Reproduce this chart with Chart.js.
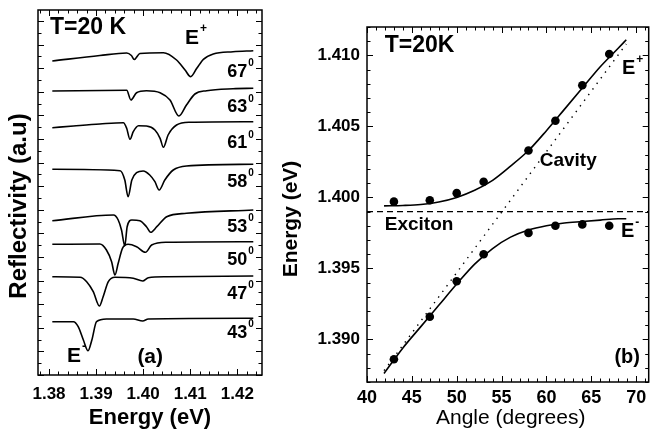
<!DOCTYPE html>
<html>
<head>
<meta charset="utf-8">
<script src="https://cdn.jsdelivr.net/npm/chart.js@4.4.0/dist/chart.umd.min.js"></script>
<style>
  html, body { margin: 0; padding: 0; background: #fff; }
  #wrap { position: relative; width: 653px; height: 434px; overflow: hidden; }
  #chartA { position: absolute; left: 0; top: 0; }
  #chartB { position: absolute; left: 270px; top: 0; }
</style>
</head>
<body>
<div id="wrap">
  <canvas id="chartA" width="300" height="434"></canvas>
  <canvas id="chartB" width="383" height="434"></canvas>
</div>
<script>
"use strict";

// ---- panel (a): reflectivity spectra, energy (eV) vs offset reflectivity (a.u.)
const angleLabels = ["67", "63", "61", "58", "53", "50", "47", "43"];

const e67 = [1.3807, 1.3908, 1.3965, 1.3975, 1.3981, 1.3993, 1.4043, 1.4071, 1.4089, 1.4101, 1.4114, 1.4128, 1.4149, 1.4191, 1.4234];
const r67 = [314, 319.5, 322, 319.5, 315.5, 321.5, 322.3, 315, 305, 298.3, 306.7, 315.7, 321, 323.3, 324.3];

const e63 = [1.3807, 1.3965, 1.3974, 1.3986, 1.4007, 1.4036, 1.4057, 1.4076, 1.4092, 1.4110, 1.4135, 1.4191, 1.4234];
const r63 = [284, 284.7, 275, 282.3, 284.3, 282.3, 275, 259, 270, 281, 284.3, 286.3, 286.7];

const e61 = [1.3807, 1.3852, 1.3908, 1.3958, 1.3965, 1.3972, 1.3979, 1.3990, 1.4007, 1.4025, 1.4036, 1.4043, 1.4053, 1.4071, 1.4099, 1.4234];
const r61 = [247.3, 249, 251, 252.3, 246.7, 235.7, 243.3, 249.3, 249, 245, 236.7, 227.7, 240, 250, 252.7, 253.3];

const e58 = [1.3807, 1.3951, 1.3961, 1.3968, 1.3976, 1.3986, 1.4000, 1.4014, 1.4025, 1.4034, 1.4046, 1.4064, 1.4092, 1.4234];
const r58 = [205.7, 204.3, 195, 178.3, 195, 202.3, 204, 200, 193.3, 185, 195, 205, 209, 210.7];

const e53 = [1.3807, 1.3937, 1.3947, 1.3954, 1.3961, 1.3966, 1.3976, 1.3993, 1.4007, 1.4016, 1.4029, 1.4050, 1.4092, 1.4234];
const r53 = [154.3, 160, 155, 145, 129, 148.3, 155, 154.3, 148.3, 142.7, 148.3, 158.3, 161.7, 165];

const e50 = [1.3807, 1.3908, 1.3922, 1.3933, 1.3940, 1.3947, 1.3956, 1.3968, 1.3986, 1.4005, 1.4018, 1.4050, 1.4234];
const r50 = [130.7, 131, 125, 113.3, 100, 111.7, 126.7, 130.7, 128.3, 122.7, 130, 132.7, 133.3];

const e47 = [1.3807, 1.3866, 1.3880, 1.3894, 1.3907, 1.3915, 1.3926, 1.3940, 1.3979, 1.3999, 1.4011, 1.4050, 1.4234];
const r47 = [98.3, 97.7, 93.3, 83.3, 69, 78.3, 93.3, 97.7, 96.7, 94, 97.3, 98.3, 99];

const e43 = [1.3807, 1.3852, 1.3862, 1.3873, 1.3883, 1.3891, 1.3901, 1.3922, 1.3979, 1.3999, 1.4011, 1.4234];
const r43 = [53.3, 53.3, 48.3, 35, 24.3, 35, 53.3, 56, 56, 54, 56, 56.7];

// label height of each angle tag on the reflectivity axis
const angleLabelY = [303.3, 267.5, 231.7, 193.3, 148.3, 115, 81, 42];

// ---- panel (b): polariton energies vs angle
const angles   = [43, 47, 50, 53, 58, 61, 64, 67];
const upperE   = [1.3997, 1.3998, 1.4003, 1.4011, 1.4033, 1.4054, 1.4079, 1.4101];
const lowerE   = [1.3886, 1.3916, 1.3941, 1.3960, 1.3975, 1.3980, 1.3981, 1.3980];

const fitAngles = [41.9, 44, 46, 48, 50, 52, 54, 56, 58, 60, 62, 64, 66, 68, 68.9];
const upperFit  = [1.3994, 1.39943, 1.3995, 1.39968, 1.40000, 1.4005, 1.4012, 1.4022, 1.4033, 1.4047, 1.4062, 1.4077, 1.4092, 1.4105, 1.4111];
const lowerFit  = [1.3876, 1.3894, 1.3909, 1.3924, 1.3939, 1.3953, 1.3964, 1.3972, 1.3977, 1.3980, 1.3982, 1.3983, 1.3984, 1.3985, 1.3985];

const cavityAngles  = [41.9, 68.9];
const cavityE       = [1.3878, 1.4108];
const excitonAngles = [40, 71.4];
const excitonE      = [1.399, 1.399];

const FONT = "'Liberation Sans', Arial, Helvetica, sans-serif";

function toPoints(xs, ys) {
    return xs.map((x, i) => ({ x: x, y: ys[i] }));
}

function isMul(v, step) {
    const q = v / step;
    return Math.abs(q - Math.round(q)) < 1e-6;
}

// closed frame with inward ticks on all four sides
function framePlugin(xMajor, yMajor) {
    return {
        id: "frame",
        afterDraw(chart) {
            const { ctx, chartArea: a, scales } = chart;
            ctx.save();
            ctx.strokeStyle = "#000";
            ctx.lineWidth = 1.5;
            ctx.strokeRect(a.left, a.top, a.right - a.left, a.bottom - a.top);
            ctx.lineWidth = 1;
            ctx.beginPath();
            scales.x.ticks.forEach(t => {
                const px = Math.round(scales.x.getPixelForValue(t.value)) + 0.5;
                const len = isMul(t.value, xMajor) ? 6 : 3.5;
                ctx.moveTo(px, a.bottom); ctx.lineTo(px, a.bottom - len);
                ctx.moveTo(px, a.top);    ctx.lineTo(px, a.top + len);
            });
            scales.y.ticks.forEach(t => {
                const py = Math.round(scales.y.getPixelForValue(t.value)) + 0.5;
                const len = isMul(t.value, yMajor) ? 6 : 3.5;
                ctx.moveTo(a.left, py);  ctx.lineTo(a.left + len, py);
                ctx.moveTo(a.right, py); ctx.lineTo(a.right - len, py);
            });
            ctx.stroke();
            ctx.restore();
        }
    };
}

function drawText(ctx, s, sup, x, y, size, align, weight) {
    const supSize = Math.round(size * 0.58);
    ctx.font = weight + " " + size + "px " + FONT;
    const w1 = ctx.measureText(s).width;
    let w2 = 0;
    if (sup) {
        ctx.font = weight + " " + supSize + "px " + FONT;
        w2 = ctx.measureText(sup).width + 1;
    }
    const x0 = align === "right" ? x - w1 - w2 : align === "center" ? x - (w1 + w2) / 2 : x;
    ctx.textAlign = "left";
    ctx.textBaseline = "middle";
    ctx.font = weight + " " + size + "px " + FONT;
    ctx.fillText(s, x0, y);
    if (sup) {
        ctx.font = weight + " " + supSize + "px " + FONT;
        ctx.fillText(sup, x0 + w1 + 1, y - size * 0.46);
    }
}

// labels: [text, superscript, x value, y value, size, align, weight]
// titles: [text, px x, px y, size, weight, rotated]
function labelPlugin(labels, titles) {
    return {
        id: "labels",
        afterDraw(chart) {
            const { ctx, scales } = chart;
            ctx.save();
            ctx.fillStyle = "#000";
            labels.forEach(l => {
                const px = scales.x.getPixelForValue(l[2]);
                const py = scales.y.getPixelForValue(l[3]);
                drawText(ctx, l[0], l[1], px, py, l[4], l[5], l[6]);
            });
            titles.forEach(t => {
                ctx.save();
                ctx.translate(t[1], t[2]);
                if (t[5]) ctx.rotate(-Math.PI / 2);
                ctx.font = t[4] + " " + t[3] + "px " + FONT;
                ctx.textAlign = "center";
                ctx.textBaseline = "middle";
                ctx.fillText(t[0], 0, 0);
                ctx.restore();
            });
            ctx.restore();
        }
    };
}

// ---------- panel (a)
const spectraE = [e67, e63, e61, e58, e53, e50, e47, e43];
const spectraR = [r67, r63, r61, r58, r53, r50, r47, r43];

const labelsA = [
    ["T=20 K", "", 1.3802, 347, 23, "left", "bold"],
    ["E", "+", 1.4089, 336.7, 21, "left", "bold"],
    ["E", "-", 1.3838, 18.3, 21, "left", "bold"],
    ["(a)", "", 1.4015, 18, 21, "center", "bold"]
].concat(angleLabels.map((a, i) => [a, "0", 1.4235, angleLabelY[i], 18, "right", "bold"]));

const titlesA = [
    ["Reflectivity (a.u)", 19, 206, 24, "bold", true],
    ["Energy (eV)", 150, 418, 22, "bold", false]
];

new Chart(document.getElementById("chartA"), {
    type: "line",
    data: {
        datasets: spectraE.map((es, i) => ({
            label: angleLabels[i] + "°",
            data: toPoints(es, spectraR[i]),
            borderColor: "#000",
            borderWidth: 1.6,
            pointRadius: 0,
            fill: false,
            cubicInterpolationMode: "monotone"
        }))
    },
    options: {
        responsive: false,
        animation: false,
        devicePixelRatio: 1,
        layout: { padding: { left: 0, top: 10, right: 38, bottom: 0 } },
        plugins: { legend: { display: false }, tooltip: { enabled: false } },
        scales: {
            x: {
                type: "linear",
                min: 1.37766,
                max: 1.42525,
                afterFit(s) { s.height = 59; },
                grid: { display: false, drawTicks: false },
                border: { display: false },
                ticks: {
                    stepSize: 0.002,
                    includeBounds: false,
                    autoSkip: false,
                    maxRotation: 0,
                    padding: 11,
                    color: "#000",
                    font: { family: FONT, size: 17, weight: "bold", lineHeight: 1 },
                    callback: v => isMul(v, 0.01) ? v.toFixed(2) : ""
                }
            },
            y: {
                type: "linear",
                min: 0,
                max: 365,
                afterFit(s) { s.width = 38; },
                grid: { display: false, drawTicks: false },
                border: { display: false },
                ticks: { stepSize: 11.8, includeBounds: false, display: false }
            }
        }
    },
    plugins: [framePlugin(0.01, 23.6), labelPlugin(labelsA, titlesA)]
});

// ---------- panel (b)
const labelsB = [
    ["T=20K", "", 41.98, 1.4107, 23, "left", "bold"],
    ["E", "+", 68.42, 1.40906, 20, "left", "bold"],
    ["Cavity", "", 59.25, 1.40256, 19, "left", "bold"],
    ["Exciton", "", 41.98, 1.3981, 19, "left", "bold"],
    ["E", "-", 68.31, 1.39758, 20, "left", "bold"],
    ["(b)", "", 69.0, 1.38873, 20, "center", "bold"]
];

const titlesB = [
    ["Energy (eV)", 21, 219, 21, "bold", true],
    ["Angle (degrees)", 240.7, 418, 21, "normal", false]
];

new Chart(document.getElementById("chartB"), {
    type: "line",
    data: {
        datasets: [
            {
                label: "E+ data",
                data: toPoints(angles, upperE),
                showLine: false,
                pointRadius: 4.3,
                pointBackgroundColor: "#000",
                pointBorderColor: "#000",
                pointBorderWidth: 0
            },
            {
                label: "E- data",
                data: toPoints(angles, lowerE),
                showLine: false,
                pointRadius: 4.3,
                pointBackgroundColor: "#000",
                pointBorderColor: "#000",
                pointBorderWidth: 0
            },
            {
                label: "E+ fit",
                data: toPoints(fitAngles, upperFit),
                borderColor: "#000",
                borderWidth: 1.6,
                pointRadius: 0,
                cubicInterpolationMode: "monotone"
            },
            {
                label: "E- fit",
                data: toPoints(fitAngles, lowerFit),
                borderColor: "#000",
                borderWidth: 1.6,
                pointRadius: 0,
                cubicInterpolationMode: "monotone"
            },
            {
                label: "Cavity",
                data: toPoints(cavityAngles, cavityE),
                borderColor: "#000",
                borderWidth: 1.4,
                borderDash: [1.4, 5.6],
                pointRadius: 0
            },
            {
                label: "Exciton",
                data: toPoints(excitonAngles, excitonE),
                borderColor: "#000",
                borderWidth: 1.2,
                borderDash: [6, 4],
                pointRadius: 0
            }
        ]
    },
    options: {
        responsive: false,
        animation: false,
        devicePixelRatio: 1,
        layout: { padding: { left: 0, top: 27, right: 1, bottom: 0 } },
        plugins: { legend: { display: false }, tooltip: { enabled: false } },
        scales: {
            x: {
                type: "linear",
                min: 40,
                max: 71.4,
                afterFit(s) { s.height = 52; },
                grid: { display: false, drawTicks: false },
                border: { display: false },
                ticks: {
                    stepSize: 1,
                    includeBounds: false,
                    autoSkip: false,
                    maxRotation: 0,
                    padding: 7,
                    color: "#000",
                    font: { family: FONT, size: 18, weight: "bold", lineHeight: 1 },
                    callback: v => isMul(v, 5) ? String(Math.round(v)) : ""
                }
            },
            y: {
                type: "linear",
                min: 1.387,
                max: 1.412,
                afterFit(s) { s.width = 97; },
                grid: { display: false, drawTicks: false },
                border: { display: false },
                ticks: {
                    stepSize: 0.001,
                    includeBounds: false,
                    autoSkip: false,
                    padding: 7,
                    color: "#000",
                    font: { family: FONT, size: 17, weight: "bold", lineHeight: 1 },
                    callback: v => isMul(v, 0.005) ? v.toFixed(3) : ""
                }
            }
        }
    },
    plugins: [framePlugin(5, 0.005), labelPlugin(labelsB, titlesB)]
});
</script>
</body>
</html>
